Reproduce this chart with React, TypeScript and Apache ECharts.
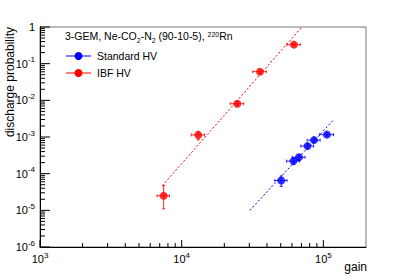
import React, { useEffect, useRef } from 'react';
import * as echarts from 'echarts';

// IBF HV
const ibfGain = [7460, 13100, 24700, 35700, 62000];
const ibfGainErr = [750, 1400, 2700, 3900, 6800];
const ibfProb = [2.5e-5, 1.14e-3, 8.1e-3, 0.0605, 0.33];
const ibfProbLow = [1.1e-5, 8.3e-4, 7.2e-3, 0.055, 0.3];
const ibfProbHigh = [4.7e-5, 1.4e-3, 9.1e-3, 0.066, 0.36];

// Standard HV
const stdGain = [50400, 61500, 67300, 77300, 85900, 106000];
const stdGainErr = [5000, 6500, 7000, 8000, 9000, 12000];
const stdProb = [6.5e-5, 2.2e-4, 2.8e-4, 5.65e-4, 8.2e-4, 1.16e-3];
const stdProbLow = [4.5e-5, 1.8e-4, 2.35e-4, 4.9e-4, 7.2e-4, 1.05e-3];
const stdProbHigh = [8.7e-5, 2.65e-4, 3.3e-4, 6.5e-4, 9.3e-4, 1.28e-3];

// fit lines
const ibfFitGain = [7300, 70600];
const ibfFitProb = [4.7e-5, 1];
const stdFitGain = [30300, 119000];
const stdFitProb = [1e-5, 3.05e-3];

const xMin = 1000;
const xMax = 200000;
const yMin = 1e-6;
const yMax = 1;
const xDecades = [1e3, 1e4, 1e5];
const yDecades = [1e-6, 1e-5, 1e-4, 1e-3, 1e-2, 1e-1, 1];

const titleText = '3-GEM, Ne-CO{sub|2}-N{sub|2} (90-10-5), {sup|220}Rn';
const legendNames = ['Standard HV', 'IBF HV'];
const xTitle = 'gain';
const yTitle = 'discharge probability';

const FONT = '"Liberation Sans", Arial, Helvetica, sans-serif';
const RED = '#ff0000';
const BLUE = '#0000ff';

function minorTicks(decades: number[], lo: number, hi: number) {
  const out: number[] = [];
  decades.forEach((d) => {
    for (let k = 2; k <= 9; k++) {
      const v = d * k;
      if (v > lo && v < hi) out.push(v);
    }
  });
  return out;
}

function expLabel(v: number) {
  const e = Math.round(Math.log10(v));
  if (Math.abs(Math.log10(v) - e) > 1e-6) return '';
  if (e === 0) return '{b|1}';
  return '{b|10}{s|' + e + '}';
}

function errorSeries(name: string, color: string, g: number[], ge: number[], p: number[], pl: number[], ph: number[]) {
  return {
    name: name + ' err',
    type: 'custom',
    z: 3,
    silent: true,
    data: g.map((x, i) => [x, p[i], x - ge[i], x + ge[i], pl[i], ph[i]]),
    encode: { x: 0, y: 1 },
    renderItem: (params: any, api: any) => {
      const x = api.value(0);
      const y = api.value(1);
      const pL = api.coord([api.value(2), y]);
      const pR = api.coord([api.value(3), y]);
      const pB = api.coord([x, api.value(4)]);
      const pT = api.coord([x, api.value(5)]);
      const style = { stroke: color, lineWidth: 1, opacity: 0.85 };
      const c = 1.5;
      return {
        type: 'group',
        children: [
          { type: 'line', shape: { x1: pL[0], y1: pL[1], x2: pR[0], y2: pR[1] }, style },
          { type: 'line', shape: { x1: pB[0], y1: pB[1], x2: pT[0], y2: pT[1] }, style },
          { type: 'line', shape: { x1: pL[0], y1: pL[1] - c, x2: pL[0], y2: pL[1] + c }, style },
          { type: 'line', shape: { x1: pR[0], y1: pR[1] - c, x2: pR[0], y2: pR[1] + c }, style },
          { type: 'line', shape: { x1: pB[0] - c, y1: pB[1], x2: pB[0] + c, y2: pB[1] }, style },
          { type: 'line', shape: { x1: pT[0] - c, y1: pT[1], x2: pT[0] + c, y2: pT[1] }, style },
        ],
      };
    },
  };
}

function tickSeries(axis: 'x' | 'y', values: number[], len: number) {
  return {
    type: 'custom',
    z: 5,
    silent: true,
    data: values.map((v) => (axis === 'x' ? [v, yMin] : [xMin, v])),
    encode: { x: 0, y: 1 },
    renderItem: (params: any, api: any) => {
      const p = api.coord([api.value(0), api.value(1)]);
      const shape =
        axis === 'x'
          ? { x1: p[0], y1: p[1], x2: p[0], y2: p[1] - len }
          : { x1: p[0], y1: p[1], x2: p[0] + len, y2: p[1] };
      return { type: 'line', shape, style: { stroke: '#000', lineWidth: 1 } };
    },
  };
}

export default function App() {
  const ref = useRef<HTMLDivElement>(null);
  useEffect(() => {
    if (!ref.current) return;
    const chart = echarts.init(ref.current, undefined, { renderer: 'svg' });
    const labelRich = {
      b: { fontSize: 11, fontFamily: FONT, color: '#000', lineHeight: 16 },
      s: { fontSize: 8, fontFamily: FONT, color: '#000', verticalAlign: 'top', lineHeight: 8 },
    };
    chart.setOption({
      animation: false,
      backgroundColor: '#fff',
      grid: {
        left: 40,
        top: 27,
        right: 41,
        bottom: 29,
        show: true,
        borderColor: '#777',
        borderWidth: 1,
        containLabel: false,
      },
      xAxis: {
        type: 'log',
        logBase: 10,
        min: xMin,
        max: xMax,
        axisLine: { show: true, lineStyle: { color: '#000', width: 1 } },
        axisTick: { show: false },
        splitLine: { show: false },
        axisLabel: {
          margin: 4,
          showMaxLabel: false,
          formatter: (v: number) => expLabel(v),
          rich: labelRich,
        },
      },
      yAxis: {
        type: 'log',
        logBase: 10,
        min: yMin,
        max: yMax,
        axisLine: { show: true, lineStyle: { color: '#000', width: 1 } },
        axisTick: { show: false },
        splitLine: { show: false },
        axisLabel: {
          margin: 5,
          formatter: (v: number) => expLabel(v),
          rich: labelRich,
        },
      },
      series: [
        tickSeries('x', xDecades, 7),
        tickSeries('x', minorTicks(xDecades, xMin, xMax), 4),
        tickSeries('y', yDecades, 10),
        tickSeries('y', minorTicks(yDecades, yMin, yMax), 5),
        {
          name: 'IBF fit',
          type: 'line',
          data: ibfFitGain.map((g, i) => [g, ibfFitProb[i]]),
          symbol: 'none',
          lineStyle: { color: RED, width: 1, type: [2, 2] },
          z: 2,
          silent: true,
        },
        {
          name: 'Standard fit',
          type: 'line',
          data: stdFitGain.map((g, i) => [g, stdFitProb[i]]),
          symbol: 'none',
          lineStyle: { color: BLUE, width: 1, type: [2, 2] },
          z: 2,
          silent: true,
        },
        errorSeries(legendNames[0], BLUE, stdGain, stdGainErr, stdProb, stdProbLow, stdProbHigh),
        errorSeries(legendNames[1], RED, ibfGain, ibfGainErr, ibfProb, ibfProbLow, ibfProbHigh),
        {
          name: legendNames[0],
          type: 'scatter',
          data: stdGain.map((g, i) => [g, stdProb[i]]),
          symbol: 'circle',
          symbolSize: 8,
          itemStyle: { color: BLUE },
          z: 4,
        },
        {
          name: legendNames[1],
          type: 'scatter',
          data: ibfGain.map((g, i) => [g, ibfProb[i]]),
          symbol: 'circle',
          symbolSize: 8,
          itemStyle: { color: RED },
          z: 4,
        },
      ],
      graphic: [
        {
          type: 'text',
          x: 65,
          y: 36,
          style: {
            text: titleText,
            fontSize: 10.5,
            fontFamily: FONT,
            fill: '#000',
            verticalAlign: 'middle',
            rich: {
              sub: { fontSize: 7, fontFamily: FONT, verticalAlign: 'bottom', lineHeight: 7, padding: [0, 0, -2, 0] },
              sup: { fontSize: 7, fontFamily: FONT, verticalAlign: 'top', lineHeight: 7 },
            },
          },
        },
        { type: 'line', shape: { x1: 66, y1: 56, x2: 91, y2: 56 }, style: { stroke: BLUE, lineWidth: 1 } },
        { type: 'circle', shape: { cx: 78.5, cy: 56, r: 4 }, style: { fill: BLUE } },
        {
          type: 'text',
          x: 97,
          y: 56,
          style: { text: legendNames[0], fontSize: 10.5, fontFamily: FONT, fill: '#000', verticalAlign: 'middle' },
        },
        { type: 'line', shape: { x1: 66, y1: 73, x2: 91, y2: 73 }, style: { stroke: RED, lineWidth: 1 } },
        { type: 'circle', shape: { cx: 78.5, cy: 73, r: 4 }, style: { fill: RED } },
        {
          type: 'text',
          x: 97,
          y: 73,
          style: { text: legendNames[1], fontSize: 10.5, fontFamily: FONT, fill: '#000', verticalAlign: 'middle' },
        },
        {
          type: 'text',
          x: 367,
          y: 267,
          style: { text: xTitle, fontSize: 12, fontFamily: FONT, fill: '#000', align: 'right', verticalAlign: 'middle' },
        },
        {
          type: 'text',
          x: 10,
          y: 27,
          rotation: Math.PI / 2,
          style: { text: yTitle, fontSize: 12, fontFamily: FONT, fill: '#000', align: 'right', verticalAlign: 'middle' },
        },
      ],
    });
    return () => chart.dispose();
  }, []);
  return <div ref={ref} style={{ position: 'fixed', left: 0, top: 0, width: 407, height: 276 }} />;
}
